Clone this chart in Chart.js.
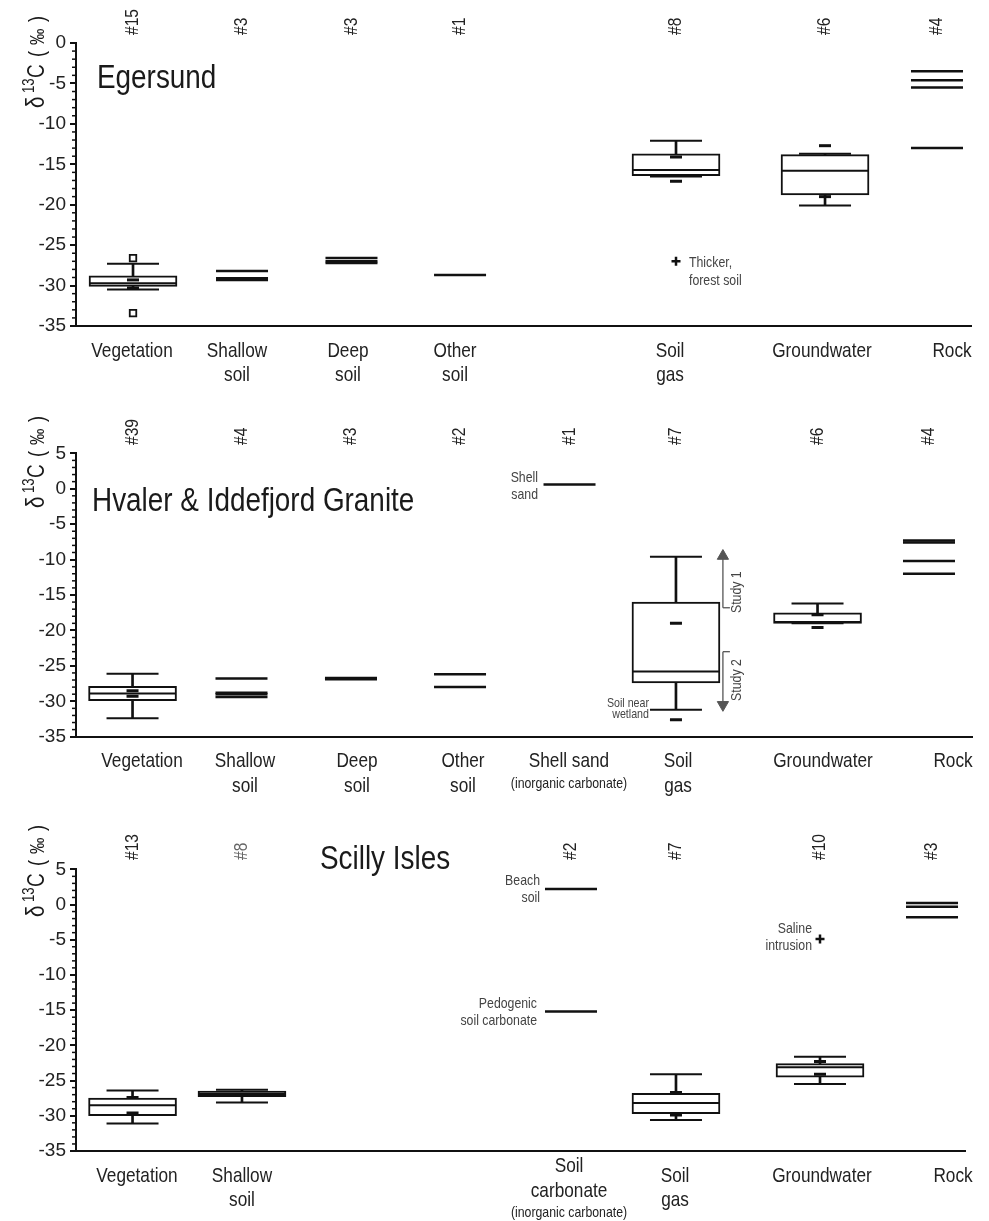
<!DOCTYPE html>
<html><head><meta charset="utf-8">
<script src="https://cdn.jsdelivr.net/npm/chart.js@4.4.1/dist/chart.umd.min.js"></script>
<style>body{margin:0;background:#fff}canvas{display:block}</style>
</head><body>
<canvas id="c1" width="989" height="400"></canvas>
<canvas id="c2" width="989" height="410"></canvas>
<canvas id="c3" width="989" height="411"></canvas>
<script>
// ================= DATA =================
// ---- Panel 1: Egersund ----
const egLabels = [["Vegetation"],["Shallow","soil"],["Deep","soil"],["Other","soil"],["Soil","gas"],["Groundwater"],["Rock"]];
const egCatX   = [6.37, 18.55, 30.78, 42.91, 67.04, 83.69, 96.20];
const egLabelX = [6.26, 17.99, 30.39, 42.35, 66.37, 83.35, 97.88];
const egCounts = ["#15","#3","#3","#1","#8","#6","#4"];
const egBoxCat = [0, 4, 5];
const egLow    = [-30.5, -16.5, -20.1];
const egQ1     = [-30.1, -16.4, -18.8];
const egMedian = [-29.7, -15.7, -15.8];
const egQ3     = [-28.8, -13.7, -13.8];
const egHigh   = [-27.3, -12.1, -13.7];
const egMarks  = [[0,-29.3],[0,-30.3],[4,-14.1],[4,-17.1],[5,-12.7],[5,-19.0]];
const egOutliers = [[0,-26.6],[0,-33.4]];
const egSingles = [[1,-28.2],[1,-29.1],[1,-29.3],[2,-26.6],[2,-27.0],[2,-27.2],[3,-28.7],[6,-3.5],[6,-4.6],[6,-5.5],[6,-13.0]];
const egSpecial = [[4,-27.0]];

// ---- Panel 2: Hvaler & Iddefjord Granite ----
const hvLabels = [["Vegetation"],["Shallow","soil"],["Deep","soil"],["Other","soil"],["Shell sand"],["Soil","gas"],["Groundwater"],["Rock"]];
const hvSubLabels = [null,null,null,null,"(inorganic carbonate)",null,null,null];
const hvCatX   = [6.31, 18.47, 30.69, 42.86, 55.08, 66.96, 82.76, 95.20];
const hvLabelX = [7.37, 18.86, 31.36, 43.19, 55.02, 67.19, 83.37, 97.88];
const hvCounts = ["#39","#4","#3","#2","#1","#7","#6","#4"];
const hvBoxCat = [0, 5, 6];
const hvLow    = [-32.4, -31.2, -19.0];
const hvQ1     = [-29.9, -27.4, -19.0];
const hvMedian = [-28.9, -25.8, -18.8];
const hvQ3     = [-27.9, -16.0, -17.5];
const hvHigh   = [-26.1, -9.6, -16.2];
const hvMarks  = [[0,-28.5],[0,-29.3],[5,-19.0],[5,-32.6],[6,-17.8],[6,-19.6]];
const hvSingles = [[1,-26.8],[1,-28.8],[1,-29.0],[1,-29.4],[2,-26.7],[2,-26.8],[2,-26.9],[3,-26.2],[3,-28.0],[4,0.6],[7,-7.3],[7,-7.6],[7,-10.2],[7,-12.0]];
const hvStudyRanges = [[-16.8,-8.6],[-23.0,-31.4]];   // study 1 / study 2 (start, arrow tip)
const hvArrowX = 72.2;

// ---- Panel 3: Scilly Isles ----
const scLabels = [["Vegetation"],["Shallow","soil"],["Soil","carbonate"],["Soil","gas"],["Groundwater"],["Rock"]];
const scSubLabels = [null,null,"(inorganic carbonate)",null,null,null];
const scCatX   = [6.36, 18.67, 55.68, 67.49, 83.69, 96.29];
const scLabelX = [6.86, 18.67, 55.46, 67.38, 83.91, 98.65];
const scCounts = ["#13","#8","#2","#7","#10","#3"];
const scBoxCat = [0, 1, 3, 4];
const scLow    = [-31.1, -28.1, -30.6, -25.5];
const scQ1     = [-30.0, -27.3, -29.7, -24.5];
const scMedian = [-28.5, -26.9, -28.2, -23.1];
const scQ3     = [-27.5, -26.5, -26.8, -22.6];
const scHigh   = [-26.4, -26.3, -24.1, -21.6];
const scMarks  = [[0,-27.4],[0,-29.6],[1,-27.0],[3,-26.7],[3,-29.9],[4,-22.3],[4,-24.1]];
const scSingles = [[2,2.2],[2,-15.2],[5,0.2],[5,-0.3],[5,-1.8]];
const scSpecial = [[4,-4.9]];

// ================= STYLE / BUILD =================
const INK = '#111';
const NOTE = '#444';
const FONT = "'Liberation Sans',Arial,sans-serif";
const SX = 0.82; // horizontal condensing of the narrow typeface
Chart.defaults.font.family = FONT;

function pts(catX, pairs){ return pairs.map(([c,v]) => ({x: catX[c], y: v})); }

function lineMarks(data, r, w, order){
  return {type:'scatter', data, pointStyle:'line', pointRadius:r, pointHoverRadius:r,
    pointBorderWidth:w, pointHoverBorderWidth:w, pointBorderColor:INK, borderColor:INK, order};
}

function makeDatasets(p){
  const bx = p.boxCat.map(c => p.catX[c]);
  const ds = [];
  ds.push({type:'bar', data: bx.map((x,i)=>({x, y:[p.low[i], p.high[i]]})), backgroundColor:INK,
    borderWidth:0, grouped:false, maxBarThickness:2, barPercentage:1, categoryPercentage:1, order:10});
  ds.push({type:'bar', data: bx.map((x,i)=>({x, y:[p.q1[i], p.q3[i]]})), backgroundColor:'#fff',
    borderColor:INK, borderWidth:2, borderSkipped:false, grouped:false, maxBarThickness:88,
    barPercentage:1, categoryPercentage:1, order:9});
  ds.push(lineMarks(bx.map((x,i)=>({x, y:p.median[i]})), 43, 2, 6));
  ds.push(lineMarks([...bx.map((x,i)=>({x, y:p.high[i]})), ...bx.map((x,i)=>({x, y:p.low[i]}))], 26, 2, 7));
  ds.push(lineMarks(pts(p.catX, p.marks), 6, 3, 4));
  ds.push(lineMarks(pts(p.catX, p.singles), 26, 2.5, 4));
  if (p.outliers) ds.push({type:'scatter', data: pts(p.catX, p.outliers), pointStyle:'rect', pointRadius:4.6,
    pointHoverRadius:4.6, pointBorderWidth:1.8, pointBorderColor:INK, pointBackgroundColor:'#fff', order:3});
  if (p.special) ds.push({type:'scatter', data: pts(p.catX, p.special), pointStyle:'cross', pointRadius:4.5,
    pointHoverRadius:4.5, pointBorderWidth:2.5, pointBorderColor:INK, borderColor:INK, order:3});
  (p.arrows || []).forEach(([start, tip]) => {
    const dir = tip > start ? 1 : -1;
    ds.push({type:'line', data:[{x:p.arrowX, y:start},{x:p.arrowX, y:tip - dir*0.9}],
      borderColor:'#555', borderWidth:1.3, pointStyle:'triangle', pointRadius:[0,6.5], pointHoverRadius:[0,6.5],
      pointRotation:[0, dir > 0 ? 0 : 180], pointBackgroundColor:'#555', pointBorderColor:'#555',
      pointBorderWidth:1, order:2});
  });
  return ds;
}

// condensed text helper (rot: rotate -90deg)
function ctext(ctx, s, x, y, size, align, baseline, color, rot){
  ctx.save(); ctx.translate(x, y);
  if (rot) ctx.rotate(-Math.PI/2);
  ctx.scale(SX, 1);
  ctx.font = `${size}px ${FONT}`; ctx.textAlign = align; ctx.textBaseline = baseline; ctx.fillStyle = color;
  ctx.fillText(s, 0, 0); ctx.restore();
}

function drawYTitle(ctx, x, y){
  ctx.save(); ctx.translate(x, y); ctx.rotate(-Math.PI/2);
  const c = '#1a1a1a';
  ctext(ctx, 'δ', 0, 0, 25, 'left', 'alphabetic', c);
  ctext(ctx, '13', 15, -10, 16, 'left', 'alphabetic', c);
  ctext(ctx, 'C', 30, 0, 23, 'left', 'alphabetic', c);
  ctext(ctx, '(', 51, 0, 22, 'left', 'alphabetic', c);
  ctext(ctx, '‰', 63, 0, 20, 'left', 'alphabetic', c);
  ctext(ctx, ')', 86, 0, 22, 'left', 'alphabetic', c);
  ctx.restore();
}

const decor = {
  id:'decor',
  afterDraw(chart, args, o){
    const {ctx, chartArea:a} = chart;
    const x = chart.scales.x, y = chart.scales.y;
    ctx.save();
    // minor ticks
    ctx.strokeStyle = INK; ctx.lineWidth = 1.5;
    for (let v = Math.ceil(y.min); v <= y.max; v++){
      if (v % 5 === 0) continue;
      const py = y.getPixelForValue(v);
      ctx.beginPath(); ctx.moveTo(a.left - 4, py); ctx.lineTo(a.left, py); ctx.stroke();
    }
    // title
    ctext(ctx, o.title, o.titleX, o.titleY, 34, 'left', 'alphabetic', '#1a1a1a');
    // y title
    drawYTitle(ctx, 44, o.yTitleY);
    // counts
    o.counts.forEach((t, i) => {
      const px = x.getPixelForValue(o.catX[i]);
      ctext(ctx, t, px, o.countY, 19, 'left', 'middle', (o.countColors && o.countColors[i]) || '#222', true);
    });
    // x category labels
    o.labels.forEach((lines, i) => {
      const px = x.getPixelForValue(o.labelX[i]);
      const shift = (o.labelShift && o.labelShift[i]) || 0;
      let ly = 0;
      lines.forEach((t, k) => { ly = a.bottom + 25 + shift + k*24.5; ctext(ctx, t, px, ly, 21, 'center', 'middle', '#222'); });
      if (o.sub && o.sub[i]) ctext(ctx, o.sub[i], px, ly + 22, 15, 'center', 'middle', '#222');
    });
    // notes
    (o.notes || []).forEach(n => {
      const px = x.getPixelForValue(o.catX[n.cat]) + n.dx;
      const py = y.getPixelForValue(n.y);
      n.lines.forEach((t, k) => ctext(ctx, t, px, py + n.dys[k], n.size || 15, n.align, 'middle', NOTE));
    });
    (o.rotNotes || []).forEach(n => {
      const px = x.getPixelForValue(n.x) + n.dx;
      const py = y.getPixelForValue(n.y);
      ctext(ctx, n.text, px, py, 15, 'center', 'middle', NOTE, true);
    });
    // small ticks at the inner ends of the study arrows
    if (o.arrows){
      ctx.strokeStyle = '#555'; ctx.lineWidth = 1.3;
      const px = x.getPixelForValue(o.arrowX);
      o.arrows.forEach(([start]) => {
        const py = y.getPixelForValue(start);
        ctx.beginPath(); ctx.moveTo(px, py); ctx.lineTo(px + 7, py); ctx.stroke();
      });
    }
    ctx.restore();
  }
};

function makeChart(p){
  new Chart(document.getElementById(p.id), {
    type:'bar',
    data:{datasets: makeDatasets(p)},
    plugins:[decor],
    options:{
      responsive:false, animation:false, events:[],
      layout:{autoPadding:false, padding:{left:0, right:989 - p.right, top:p.top, bottom:0}},
      plugins:{legend:{display:false}, tooltip:{enabled:false}, decor:p.decor},
      scales:{
        x:{type:'linear', min:0, max:100, offset:false, grid:{display:false},
           border:{display:true, color:INK, width:2}, ticks:{display:false},
           afterBuildTicks: s => { s.ticks = [{value:0},{value:100}]; },
           afterFit: s => { s.height = p.h - p.bottom; }},
        y:{type:'linear', min:p.yMin, max:p.yMax,
           grid:{display:true, drawOnChartArea:false, drawTicks:true, tickLength:6, lineWidth:2, color:INK},
           border:{display:true, color:INK, width:2},
           ticks:{stepSize:5, font:{size:19}, color:'#222', padding:4},
           afterFit: s => { s.width = 76; }}
      }
    }
  });
}

makeChart({id:'c1', h:400, top:43, bottom:326, right:971, yMin:-35, yMax:0,
  catX:egCatX, boxCat:egBoxCat, low:egLow, q1:egQ1, median:egMedian, q3:egQ3, high:egHigh,
  marks:egMarks, outliers:egOutliers, singles:egSingles, special:egSpecial,
  decor:{title:'Egersund', titleX:97, titleY:87.5, yTitleY:108, countY:35, counts:egCounts, catX:egCatX,
    labels:egLabels, labelX:egLabelX,
    notes:[{cat:4, y:-27.0, dx:13, dys:[1.5,19.5], lines:['Thicker,','forest soil'], align:'left'}]}});

makeChart({id:'c2', h:410, top:53.3, bottom:336.7, right:972, yMin:-35, yMax:5,
  catX:hvCatX, boxCat:hvBoxCat, low:hvLow, q1:hvQ1, median:hvMedian, q3:hvQ3, high:hvHigh,
  marks:hvMarks, singles:hvSingles, arrows:hvStudyRanges, arrowX:hvArrowX,
  decor:{title:'Hvaler & Iddefjord Granite', titleX:92, titleY:111, yTitleY:108, countY:45, counts:hvCounts, catX:hvCatX,
    labels:hvLabels, labelX:hvLabelX, sub:hvSubLabels, arrows:hvStudyRanges, arrowX:hvArrowX,
    notes:[{cat:4, y:0.6, dx:-31.5, dys:[-7,10], lines:['Shell','sand'], align:'right'},
           {cat:5, y:-31.2, dx:-27, dys:[-6,5], lines:['Soil near','wetland'], align:'right', size:13}],
    rotNotes:[{x:hvArrowX, y:-14.6, dx:13.5, text:'Study 1'},{x:hvArrowX, y:-27.0, dx:13.5, text:'Study 2'}]}});

makeChart({id:'c3', h:411, top:59.3, bottom:341, right:965, yMin:-35, yMax:5,
  catX:scCatX, boxCat:scBoxCat, low:scLow, q1:scQ1, median:scMedian, q3:scQ3, high:scHigh,
  marks:scMarks, singles:scSingles, special:scSpecial,
  decor:{title:'Scilly Isles', titleX:320, titleY:59, yTitleY:107, countY:50, counts:scCounts, catX:scCatX,
    countColors:[null,'#666',null,null,null,null],
    labels:scLabels, labelX:scLabelX, sub:scSubLabels, labelShift:[0,0,-9.5,0,0,0],
    notes:[{cat:2, y:2.2, dx:-31, dys:[-8.3,9.3], lines:['Beach','soil'], align:'right'},
           {cat:2, y:-15.2, dx:-34, dys:[-7.3,9.7], lines:['Pedogenic','soil carbonate'], align:'right'},
           {cat:4, y:-4.9, dx:-8, dys:[-10,7], lines:['Saline','intrusion'], align:'right'}]}});
</script>
</body></html>
